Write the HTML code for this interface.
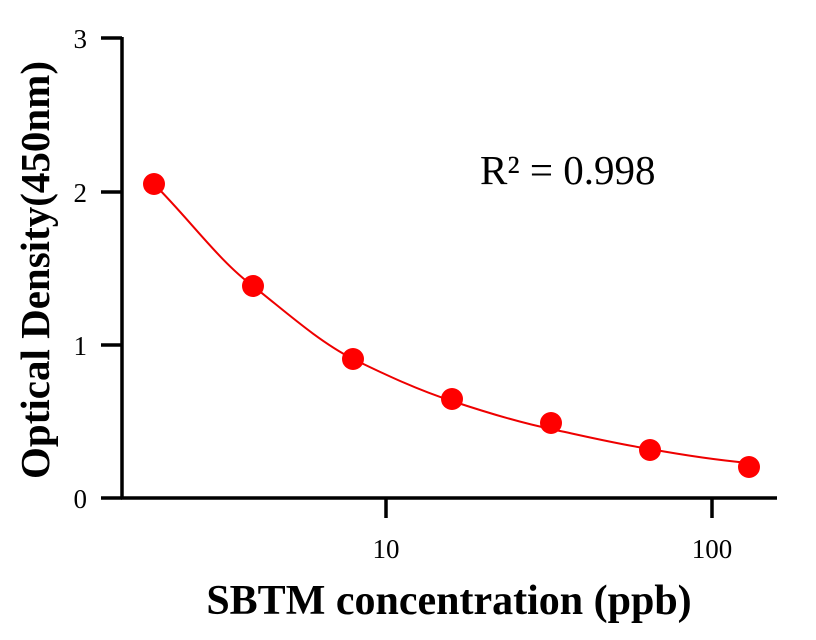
<!DOCTYPE html>
<html><head><style>body{margin:0;background:#fff}svg{display:block}</style></head>
<body>
<svg width="816" height="640" viewBox="0 0 816 640" xmlns="http://www.w3.org/2000/svg" font-family="Liberation Serif, serif">
<rect width="816" height="640" fill="#fff"/>
<g stroke="#000" stroke-width="3.5" fill="none">
<path d="M122 37 V499 M101 38 H122 M101 192 H122 M101 345 H122 M101 498 H122"/>
<path d="M121 498 H777 M386 498 V518 M712 498 V518"/>
</g>
<g font-size="27" text-anchor="end">
<text x="87" y="48">3</text><text x="87" y="202">2</text><text x="87" y="355">1</text><text x="87" y="508">0</text>
</g>
<g font-size="27" text-anchor="middle">
<text x="386" y="558">10</text><text x="712" y="558">100</text>
</g>
<path d="M154 184 C190 220 220 262 253 286 C286 312 318 341 353 359 C386 375 418 390 452 401 C485 412 517 422 551 429 C584 436 617 444 650 449 C683 455 716 460 749 463" stroke="#e00" stroke-width="2" fill="none"/>
<g fill="#f00">
<circle cx="154" cy="184" r="11"/><circle cx="253" cy="286" r="11"/><circle cx="353" cy="359" r="11"/><circle cx="452" cy="399" r="11"/><circle cx="551" cy="423" r="11"/><circle cx="650" cy="450" r="11"/><circle cx="749" cy="467" r="11"/>
</g>
<text x="480" y="184" font-size="41">R² = 0.998</text>
<text x="449" y="614" font-size="42" font-weight="bold" text-anchor="middle">SBTM concentration (ppb)</text>
<text transform="translate(49 270) rotate(-90)" font-size="41" font-weight="bold" text-anchor="middle">Optical Density(450nm)</text>
</svg>
</body></html>
